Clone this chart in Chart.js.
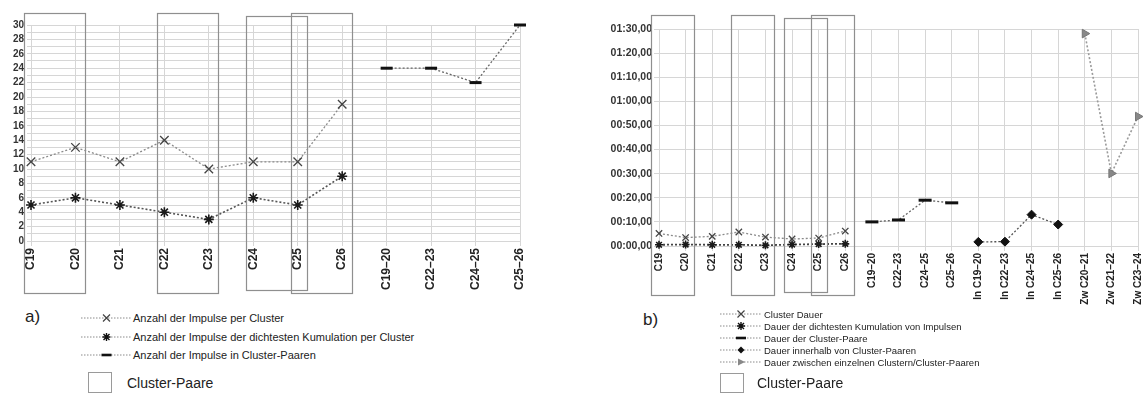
<!DOCTYPE html>
<html>
<head>
<meta charset="utf-8">
<script src="https://cdn.jsdelivr.net/npm/chart.js@4.4.1/dist/chart.umd.min.js"></script>
<style>
  html, body { margin: 0; padding: 0; background: #fff; overflow: hidden; }
  body { width: 1144px; height: 394px; position: relative; font-family: 'Liberation Sans', Arial, sans-serif; color: #222; }
  .abs { position: absolute; }
  .tag { font-size: 17px; }
  .row { position: absolute; display: flex; align-items: center; white-space: nowrap; }
  .row svg { flex: none; }
  .box { position: absolute; border: 1px solid #9a9a9a; box-sizing: border-box; }
  .boxlabel { font-size: 14px; white-space: nowrap; }
</style>
</head>
<body>
<div class="abs" style="left:0;top:0;"><canvas id="chartA" width="560" height="300"></canvas></div>
<div class="abs" style="left:560px;top:0;"><canvas id="chartB" width="592" height="310"></canvas></div>

<!-- legend a) -->
<div class="abs tag" style="left:25px;top:307px;">a)</div>
<div id="legendA"></div>
<div class="box" style="left:88px;top:372px;width:24px;height:21px;"></div>
<div class="abs boxlabel" style="left:127px;top:375px;">Cluster-Paare</div>

<!-- legend b) -->
<div class="abs tag" style="left:643px;top:310px;">b)</div>
<div id="legendB"></div>
<div class="box" style="left:720px;top:373px;width:24px;height:20px;"></div>
<div class="abs boxlabel" style="left:757px;top:375px;">Cluster-Paare</div>

<script>
// ---- a) number of impulses ----
const categoriesA = ['C19', 'C20', 'C21', 'C22', 'C23', 'C24', 'C25', 'C26',
                     'C19–20', 'C22–23', 'C24–25', 'C25–26'];
const impulsesPerCluster = [11, 13, 11, 14, 10, 11, 11, 19, null, null, null, null];
const densestPerCluster  = [5, 6, 5, 4, 3, 6, 5, 9, null, null, null, null];
const impulsesInPairs    = [null, null, null, null, null, null, null, null, 24, 24, 22, 30];

// ---- b) durations in seconds ----
const categoriesB = ['C19', 'C20', 'C21', 'C22', 'C23', 'C24', 'C25', 'C26',
                     'C19–20', 'C22–23', 'C24–25', 'C25–26',
                     'In C19–20', 'In C22–23', 'In C24–25', 'In C25–26',
                     'Zw C20–21', 'Zw C21–22', 'Zw C23–24'];
const clusterDuration = [5.2, 3.5, 4.0, 5.8, 3.7, 2.9, 3.3, 6.2,
                         null, null, null, null, null, null, null, null, null, null, null];
const densestDuration = [0.5, 0.6, 0.5, 0.5, 0.3, 0.6, 0.8, 0.9,
                         null, null, null, null, null, null, null, null, null, null, null];
const pairDuration    = [null, null, null, null, null, null, null, null,
                         10.0, 10.8, 19.0, 17.9, null, null, null, null, null, null, null];
const withinPairDuration = [null, null, null, null, null, null, null, null, null, null, null, null,
                         1.7, 1.8, 13.0, 8.9, null, null, null];
const betweenDuration = [null, null, null, null, null, null, null, null, null, null, null, null,
                         null, null, null, null, 88.1, 30.1, 53.7];

// clusters grouped as pairs (outlined boxes)
const clusterPairs = [['C19', 'C20'], ['C22', 'C23'], ['C24', 'C25'], ['C25', 'C26']];

const legendA = [
  { text: 'Anzahl der Impulse per Cluster', marker: 'cross' },
  { text: 'Anzahl der Impulse der dichtesten Kumulation per Cluster', marker: 'star' },
  { text: 'Anzahl der Impulse in Cluster-Paaren', marker: 'dash' }
];
const legendB = [
  { text: 'Cluster Dauer', marker: 'cross' },
  { text: 'Dauer der dichtesten Kumulation von Impulsen', marker: 'star' },
  { text: 'Dauer der Cluster-Paare', marker: 'dash' },
  { text: 'Dauer innerhalb von Cluster-Paaren', marker: 'diamond' },
  { text: 'Dauer zwischen einzelnen Clustern/Cluster-Paaren', marker: 'triangle' }
];

const FONT = "'Liberation Sans', Arial, sans-serif";
const GRID = '#d6d6d6';

// Outlined boxes around each cluster pair, spanning plot and category labels
const pairBoxes = {
  id: 'pairBoxes',
  afterDatasetsDraw(chart, args, opts) {
    const xs = chart.scales.x;
    const area = chart.chartArea;
    const labels = xs.getLabels();
    const ctx = chart.ctx;
    ctx.save();
    ctx.strokeStyle = opts.color;
    ctx.lineWidth = opts.width;
    clusterPairs.forEach((pair, i) => {
      const next = clusterPairs[i + 1];
      const inset = next && next[0] === pair[1] ? opts.inset : 0;
      const l = xs.getPixelForValue(labels.indexOf(pair[0])) - opts.padLeft;
      const r = xs.getPixelForValue(labels.indexOf(pair[1])) + opts.padRight;
      const t = area.top - opts.above + inset;
      const b = area.bottom + opts.below - inset;
      ctx.strokeRect(Math.round(l) + 0.5, Math.round(t) + 0.5, Math.round(r - l), Math.round(b - t));
    });
    ctx.restore();
  }
};

function lineSet(label, data, o) {
  return Object.assign({
    label, data,
    borderWidth: 1.3,
    borderDash: [2, 2],
    tension: 0,
    fill: false,
    clip: false,
    spanGaps: false,
    pointBorderWidth: 1.3
  }, o);
}

// ---------- chart a) ----------
new Chart(document.getElementById('chartA'), {
  type: 'line',
  data: {
    labels: categoriesA,
    datasets: [
      lineSet('Anzahl der Impulse per Cluster', impulsesPerCluster, {
        borderColor: '#8a8a8a', pointStyle: 'crossRot', pointRadius: 6,
        pointBorderColor: '#444', pointBackgroundColor: '#444'
      }),
      lineSet('Anzahl der Impulse der dichtesten Kumulation per Cluster', densestPerCluster, {
        borderColor: '#555', borderWidth: 1.6, pointStyle: 'star', pointRadius: 5,
        pointBorderColor: '#1a1a1a', pointBackgroundColor: '#1a1a1a', pointBorderWidth: 1.6
      }),
      lineSet('Anzahl der Impulse in Cluster-Paaren', impulsesInPairs, {
        borderColor: '#666', pointStyle: 'line', pointRadius: 6,
        pointBorderColor: '#111', pointBorderWidth: 3
      })
    ]
  },
  options: {
    responsive: false,
    animation: false,
    events: [],
    layout: { padding: { top: 25, right: 40, left: 0, bottom: 0 } },
    plugins: {
      legend: { display: false },
      tooltip: { enabled: false },
      pairBoxes: { color: '#8f8f8f', width: 1.2, padLeft: 7, padRight: 10, above: 12, below: 52, inset: 3 }
    },
    scales: {
      x: {
        type: 'category',
        offset: false,
        grid: { color: GRID, tickLength: 5 },
        border: { display: false },
        ticks: { autoSkip: false, minRotation: 90, maxRotation: 90, padding: 2,
                 color: '#222', font: { family: FONT, size: 12, weight: 'bold' } },
        afterFit(s) { s.height = 59; }
      },
      y: {
        min: 0, max: 30,
        grid: { color: GRID, tickLength: 4 },
        border: { display: false },
        ticks: { stepSize: 1, autoSkip: false, padding: 3, color: '#333',
                 font: { family: FONT, size: 10, weight: 'bold' },
                 callback: v => (v % 2 === 0 ? String(v) : '') },
        afterFit(s) { s.width = 31; }
      }
    }
  },
  plugins: [pairBoxes]
});

// ---------- chart b) ----------
const two = n => String(n).padStart(2, '0');
const fmtDuration = v => two(Math.floor(v / 60)) + ':' + two(v % 60) + ',00';

new Chart(document.getElementById('chartB'), {
  type: 'line',
  data: {
    labels: categoriesB,
    datasets: [
      lineSet('Cluster Dauer', clusterDuration, {
        borderColor: '#8a8a8a', pointStyle: 'crossRot', pointRadius: 4.5,
        pointBorderColor: '#444'
      }),
      lineSet('Dauer der dichtesten Kumulation von Impulsen', densestDuration, {
        borderColor: '#444', borderWidth: 1.8, pointStyle: 'star', pointRadius: 4,
        pointBorderColor: '#1a1a1a', pointBorderWidth: 1.6
      }),
      lineSet('Dauer der Cluster-Paare', pairDuration, {
        borderColor: '#666', pointStyle: 'line', pointRadius: 6.5,
        pointBorderColor: '#111', pointBorderWidth: 3
      }),
      lineSet('Dauer innerhalb von Cluster-Paaren', withinPairDuration, {
        borderColor: '#555', pointStyle: 'rectRot', pointRadius: 4.5,
        pointBorderColor: '#111', pointBackgroundColor: '#111', pointBorderWidth: 1
      }),
      lineSet('Dauer zwischen einzelnen Clustern/Cluster-Paaren', betweenDuration, {
        borderColor: '#9a9a9a', borderWidth: 1.6, pointStyle: 'triangle', pointRadius: 5,
        pointRotation: 90, pointBorderColor: '#777', pointBackgroundColor: '#888', pointBorderWidth: 1
      })
    ]
  },
  options: {
    responsive: false,
    animation: false,
    events: [],
    layout: { padding: { top: 29, right: 12, left: 0, bottom: 0 } },
    plugins: {
      legend: { display: false },
      tooltip: { enabled: false },
      pairBoxes: { color: '#8f8f8f', width: 1.2, padLeft: 8, padRight: 8, above: 14, below: 49, inset: 3 }
    },
    scales: {
      x: {
        type: 'category',
        offset: false,
        grid: { color: GRID, tickLength: 5 },
        border: { display: false },
        ticks: { autoSkip: false, minRotation: 90, maxRotation: 90, padding: 2,
                 color: '#222', font: { family: FONT, size: 10, weight: 'bold' } },
        afterFit(s) { s.height = 64; }
      },
      y: {
        min: 0, max: 90,
        grid: { color: GRID, tickLength: 5 },
        border: { display: false },
        ticks: { stepSize: 10, autoSkip: false, padding: 2, color: '#333',
                 font: { family: FONT, size: 10.5, weight: 'bold' },
                 callback: v => fmtDuration(v) },
        afterFit(s) { s.width = 99; }
      }
    }
  },
  plugins: [pairBoxes]
});

// ---------- legends ----------
function markerSvg(kind, w) {
  const cx = w / 2, cy = 6;
  let m = '';
  if (kind === 'cross') {
    m = `<path d="M${cx-3.5} ${cy-3.5}L${cx+3.5} ${cy+3.5}M${cx+3.5} ${cy-3.5}L${cx-3.5} ${cy+3.5}" stroke="#444" stroke-width="1.2"/>`;
  } else if (kind === 'star') {
    m = `<path d="M${cx-3} ${cy-3}L${cx+3} ${cy+3}M${cx+3} ${cy-3}L${cx-3} ${cy+3}M${cx} ${cy-4}L${cx} ${cy+4}M${cx-4} ${cy}L${cx+4} ${cy}" stroke="#111" stroke-width="1.4"/>`;
  } else if (kind === 'dash') {
    m = `<path d="M${cx-5} ${cy}L${cx+5} ${cy}" stroke="#111" stroke-width="2.6"/>`;
  } else if (kind === 'diamond') {
    m = `<path d="M${cx} ${cy-3.5}L${cx+3.5} ${cy}L${cx} ${cy+3.5}L${cx-3.5} ${cy}Z" fill="#111"/>`;
  } else if (kind === 'triangle') {
    m = `<path d="M${cx-3} ${cy-3.5}L${cx+4} ${cy}L${cx-3} ${cy+3.5}Z" fill="#888"/>`;
  }
  return `<svg width="${w}" height="12" viewBox="0 0 ${w} 12">` +
         `<path d="M0 ${cy}L${w} ${cy}" stroke="#8a8a8a" stroke-width="1" stroke-dasharray="1.5,1.5"/>` + m + `</svg>`;
}

function buildLegend(el, items, left, tops, width, fontSize, gap) {
  el.innerHTML = items.map((it, i) =>
    `<div class="row" style="left:${left}px;top:${tops[i] - 6}px;height:12px;font-size:${fontSize}px;">` +
    markerSvg(it.marker, width) + `<span style="margin-left:${gap}px">${it.text}</span></div>`
  ).join('');
}

buildLegend(document.getElementById('legendA'), legendA, 81, [318, 337, 355], 51, 11, 1);
buildLegend(document.getElementById('legendB'), legendB, 720, [314, 326, 338, 350, 362], 42, 9.5, 2);
</script>
</body>
</html>
